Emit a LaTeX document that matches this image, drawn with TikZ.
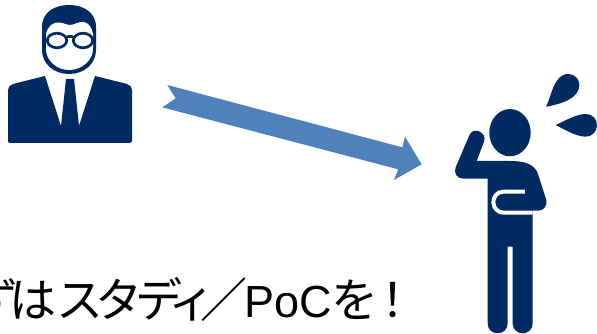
\documentclass[tikz,border=0pt]{standalone}
\usepackage{fontspec}
\setmainfont{Liberation Sans}
\newfontfamily\jpfont[RawFeature=+palt]{Noto Sans CJK JP}
\newfontfamily\jpwide{Noto Sans CJK JP}
\definecolor{navy}{HTML}{002B62}
\definecolor{arrowblue}{HTML}{4F81BD}
\tikzset{ink/.style={fill=navy,draw=none},blank/.style={fill=white,draw=none}}
\begin{document}
\begin{tikzpicture}[x=1pt,y=-1pt]
\useasboundingbox (0,0) rectangle (597,334);
\clip (0,0) rectangle (597,334);
% left person
\fill[ink] (42,27) .. controls (42,12) and (55,5) .. (69,5) .. controls (83,5) and (96,12) .. (96,27) -- (96,50) .. controls (96,64) and (84,74) .. (69,74) .. controls (54,74) and (42,64) .. (42,50) -- cycle;
\fill[blank] (46,34) .. controls (48,26) and (53,22) .. (59,22.5) .. controls (64,23) and (67,25) .. (70,25) .. controls (74,25) and (78,21.5) .. (84,22) .. controls (89,23) and (92,28) .. (93,34) -- (93,49) .. controls (93,60) and (82,70) .. (69,70) .. controls (56,70) and (46,60) .. (46,49) -- cycle;
\draw[navy,line width=2.7pt] (57,40.5) ellipse (9.7pt and 7.3pt) (83,40.5) ellipse (9.7pt and 7.3pt);
\draw[navy,line width=2.7pt] (66,37.5) .. controls (68,36) and (72,36) .. (74,37.5);
\fill[ink] (45,76) -- (13,84) .. controls (10,85) and (8,87) .. (8,90) -- (8,141) .. controls (8,142) and (9,143) .. (10,143) -- (129,143) .. controls (131,143) and (132,142) .. (132,141) -- (132,90) .. controls (132,87) and (130,85) .. (127,84) -- (95,76) -- (79,126) -- (74,79) -- (66,79) -- (61,126) -- cycle;
% arrow
\begin{scope}[shift={(150,75)},x=0.3333pt,y=-0.3333pt]
\fill[arrowblue] (52,30) -- (77,70) -- (37,97) -- (745,283) -- (732,315) -- (815,268) -- (765,185) -- (757,217) -- cycle;
\end{scope}
% right person
\begin{scope}[shift={(440,60)},x=0.3333pt,y=-0.3333pt]
\fill[ink] (210,218) ellipse [x radius=20.7pt,y radius=23.6pt];
\fill[ink] (318,140) .. controls (335,110) and (340,42) .. (385,42) .. controls (405,42) and (418,58) .. (418,75) .. controls (418,115) and (365,132) .. (318,140) -- cycle;
\fill[ink] (347,195) .. controls (380,180) and (410,162) .. (438,162) .. controls (458,162) and (471,178) .. (471,196) .. controls (471,216) and (455,230) .. (437,230) .. controls (410,230) and (380,212) .. (347,195) -- cycle;
\fill[ink] (88,226) .. controls (93,213) and (105,210) .. (117,214) .. controls (130,219) and (137,232) .. (132,245) -- (110,303) -- (210,303) .. controls (255,303) and (285,312) .. (295,345) -- (319,420) .. controls (323,436) and (312,452) .. (295,452) -- (278,452) -- (278,790) .. controls (278,808) and (265,820) .. (248,820) .. controls (231,820) and (218,808) .. (218,790) -- (218,560) -- (203,560) -- (203,790) .. controls (203,808) and (190,820) .. (173,820) .. controls (156,820) and (143,808) .. (143,790) -- (143,356) -- (70,356) .. controls (52,356) and (40,340) .. (47,322) -- cycle;
\draw[white,line width=4pt] (255,395) -- (190,395) .. controls (170,395) and (160,412) .. (160,427) .. controls (160,445) and (175,458) .. (190,458) -- (278,458);
\end{scope}
% text
\node[anchor=base west,inner sep=0pt,font=\fontsize{45pt}{45pt}\selectfont] (msg) at (-27.5,317) {{\fontsize{47pt}{47pt}\jpfont ず\kern-7pt は\kern 3pt ス\kern-4pt タ\kern-1pt デ\kern-10pt ィ\kern-7pt {\jpwide ／}}\kern-3pt PoC{\fontsize{47pt}{47pt}\jpfont を\kern 6pt ！}};
\end{tikzpicture}
\end{document}
